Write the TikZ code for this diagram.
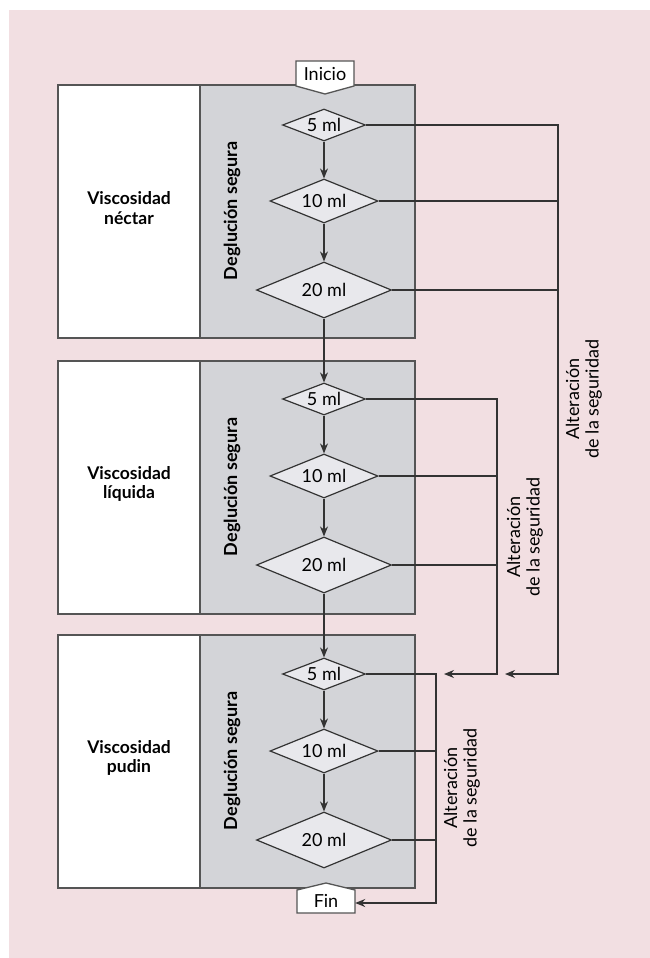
\documentclass[tikz,border=0pt]{standalone}
\usepackage{fontspec}
\setmainfont{Lato}
\usetikzlibrary{arrows.meta,shapes.geometric}
\definecolor{bgpink}{HTML}{F2DFE2}
\definecolor{panelgrey}{HTML}{D3D4D8}
\definecolor{diafill}{HTML}{E8E8EC}
\definecolor{inkline}{HTML}{333333}
\definecolor{frameline}{HTML}{555555}

\tikzset{
  frame/.style={draw=frameline, line width=1.5pt},
  dia/.style={diamond, shape aspect=2.6, inner sep=0pt, draw=inkline,
    line width=1.2pt, fill=diafill, font=\fontsize{18}{20}\selectfont},
  small/.style={dia, minimum width=83pt, minimum height=32pt},
  medium/.style={dia, minimum width=108pt, minimum height=44pt},
  large/.style={dia, minimum width=135pt, minimum height=56pt},
  link/.style={draw=inkline, line width=1.3pt},
  flow/.style={link, -{Stealth[length=10pt,width=8pt]}},
  tagtext/.style={inner sep=0pt, font=\fontsize{18}{20}\selectfont},
  tagshape/.style={fill=white, draw=frameline, line width=1.3pt, line join=miter},
  viscname/.style={align=center, font=\bfseries\fontsize{17.5}{19.5}\selectfont},
  safe/.style={rotate=90, font=\bfseries\fontsize{18}{20}\selectfont},
  alter/.style={rotate=90, align=center, font=\fontsize{18}{19.5}\selectfont}
}

\begin{document}
\begin{tikzpicture}[x=1pt, y=-1pt]
\useasboundingbox (0,0) rectangle (650,958);
\fill[white] (0,0) rectangle (650,958);
\fill[bgpink] (9,10) rectangle (650,958);

% three stages: white name column and grey test column
\foreach \top in {85,361,635} {
  \fill[white] (58,\top) rectangle (200,\top+253);
  \fill[panelgrey] (200,\top) rectangle (415,\top+253);
  \draw[frame] (58,\top) rectangle (415,\top+253);
  \draw[frame] (200,\top) -- (200,\top+253);
}

% stage names
\node[viscname] (v1) at (129,208) {Viscosidad\\néctar};
\node[viscname] (v2) at (129,484) {Viscosidad\\líquida};
\node[viscname] (v3) at (129,758) {Viscosidad\\pudin};

\node[safe] (s1) at (232,211) {Deglución segura};
\node[safe] (s2) at (232,487) {Deglución segura};
\node[safe] (s3) at (232,761) {Deglución segura};

% start tag
\draw[tagshape] (296,61) -- (354,61) -- (354,86) -- (325,94) -- (296,86) -- cycle;
\node[tagtext] (ini) at (325,74) {Inicio};

% end tag
\draw[tagshape] (297,913) -- (355,913) -- (355,890) -- (326,883) -- (297,890) -- cycle;
\node[tagtext, minimum width=58pt] (fin) at (326,901) {Fin};

% volume steps
\node[small]  (d11) at (324,125) {5 ml};
\node[medium] (d12) at (324,201) {10 ml};
\node[large]  (d13) at (324,290) {20 ml};
\node[small]  (d21) at (324,399) {5 ml};
\node[medium] (d22) at (324,476) {10 ml};
\node[large]  (d23) at (324,565) {20 ml};
\node[small]  (d31) at (324,674) {5 ml};
\node[medium] (d32) at (324,751) {10 ml};
\node[large]  (d33) at (324,840) {20 ml};

% safe swallow path
\draw[flow] (d11.south) -- (d12.north);
\draw[flow] (d12.south) -- (d13.north);
\draw[flow] (d13.south) -- (d21.north);
\draw[flow] (d21.south) -- (d22.north);
\draw[flow] (d22.south) -- (d23.north);
\draw[flow] (d23.south) -- (d31.north);
\draw[flow] (d31.south) -- (d32.north);
\draw[flow] (d32.south) -- (d33.north);

% unsafe swallow returns
\coordinate (b1) at (558,674);
\coordinate (t1) at (505,674);
\coordinate (b2) at (497,674);
\coordinate (t2) at (444,674);
\coordinate (b3) at (436,903);

\draw[flow] (d11.east) -| (b1) -- (t1);
\draw[link] (d12.east) -- (d12.east -| b1);
\draw[link] (d13.east) -- (d13.east -| b1);

\draw[flow] (d21.east) -| (b2) -- (t2);
\draw[link] (d22.east) -- (d22.east -| b2);
\draw[link] (d23.east) -- (d23.east -| b2);

\draw[flow] (d31.east) -| (b3) -- (fin.east |- b3);
\draw[link] (d32.east) -- (d32.east -| b3);
\draw[link] (d33.east) -- (d33.east -| b3);

% labels of the return lines
\node[alter] (a1) at (584,399) {Alteración\\de la seguridad};
\node[alter] (a2) at (525,537) {Alteración\\de la seguridad};
\node[alter] (a3) at (462,788) {Alteración\\de la seguridad};
\end{tikzpicture}
\end{document}
